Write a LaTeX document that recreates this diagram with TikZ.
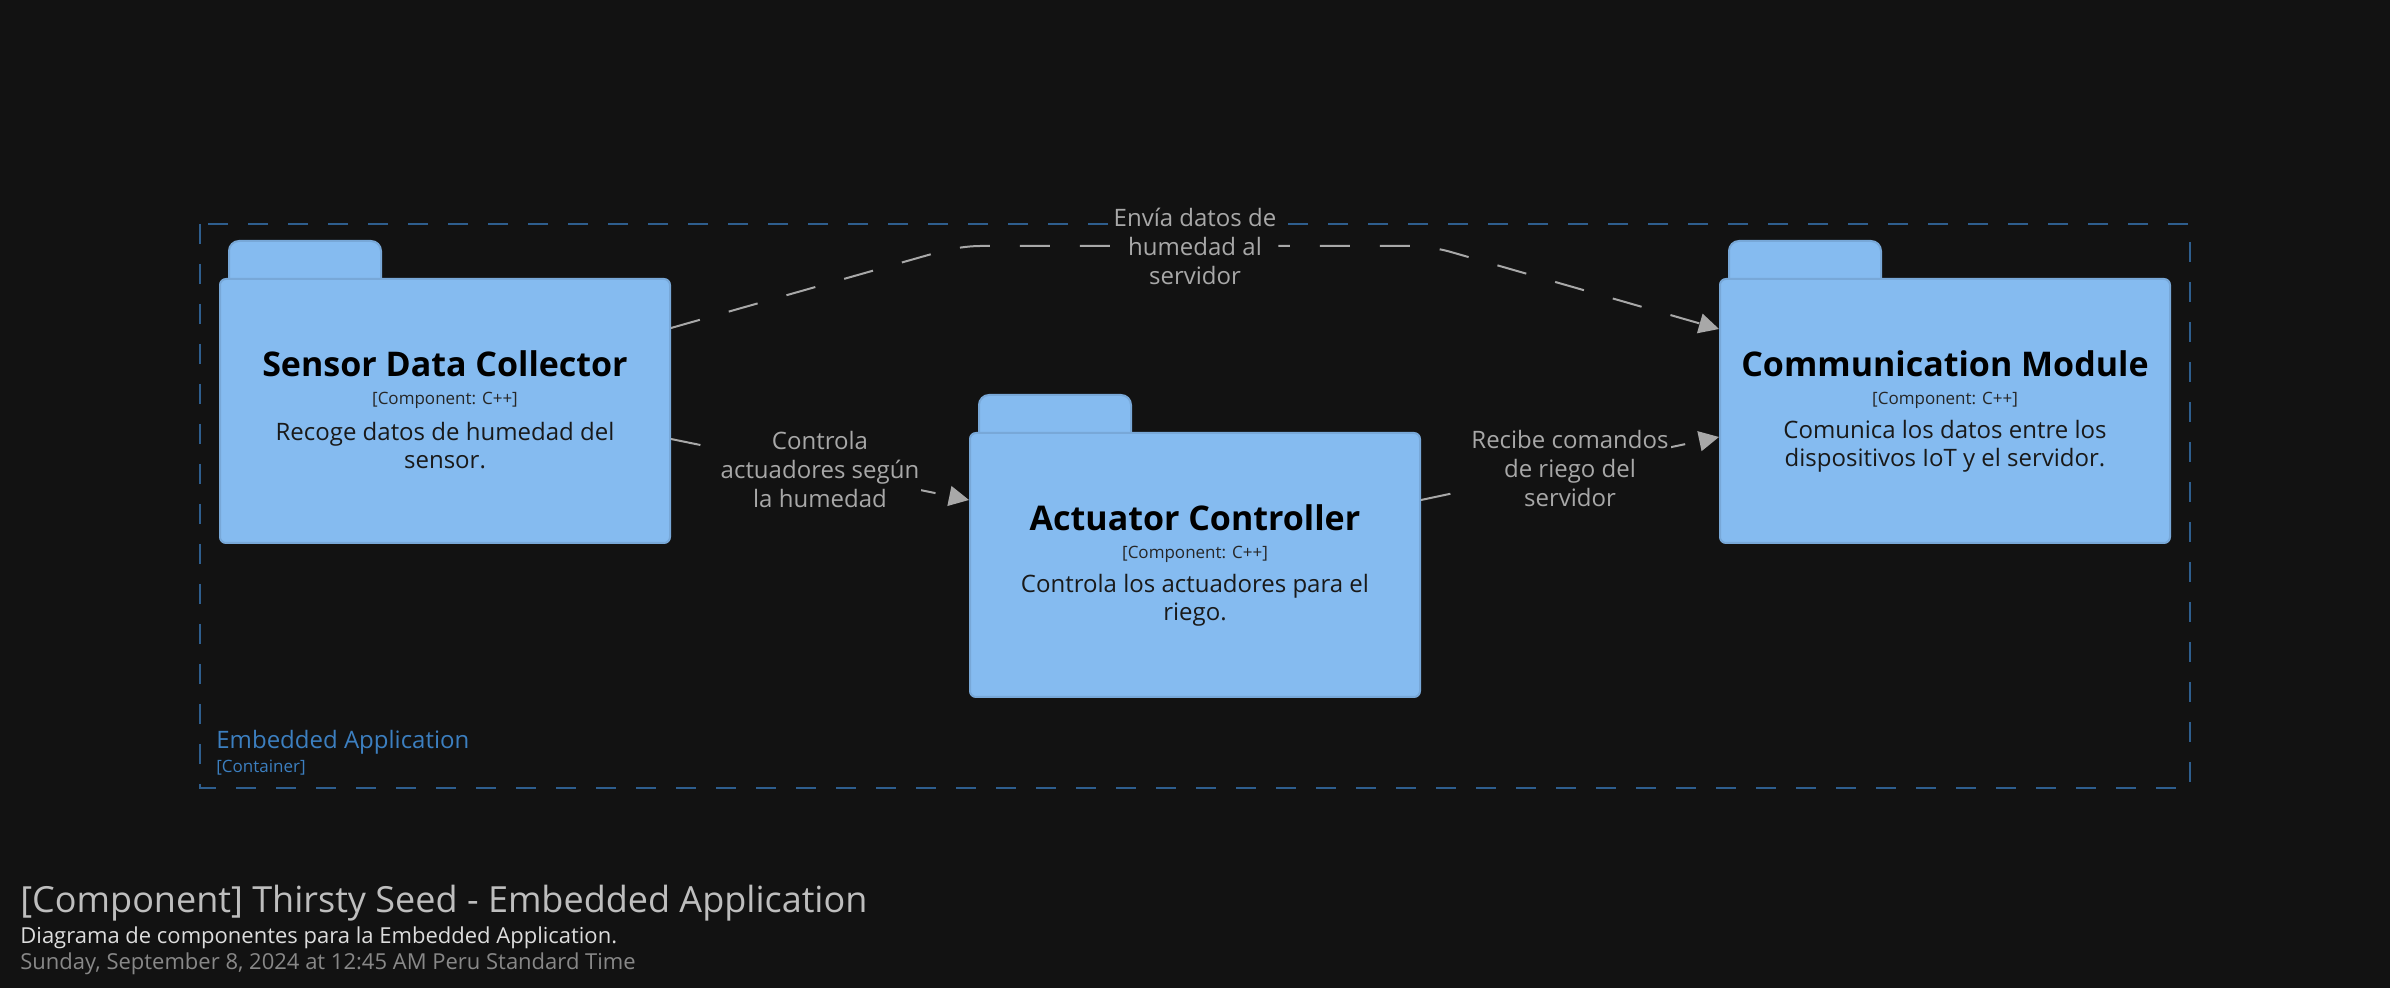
\documentclass[tikz,border=0pt]{standalone}
\usepackage{fontspec}
\setmainfont{Open Sans}
\usetikzlibrary{arrows.meta}

\definecolor{bgdark}{HTML}{121212}
\definecolor{compblue}{HTML}{85BBF0}
\definecolor{compline}{HTML}{78A8D8}
\definecolor{bounddark}{HTML}{2E5E8E}
\definecolor{boundtext}{HTML}{3C7FC0}
\definecolor{relgray}{HTML}{A8A8A8}
\definecolor{titlegray}{HTML}{BEBEBE}
\definecolor{subgray}{HTML}{DDDDDD}
\definecolor{dategray}{HTML}{888888}

\tikzset{
  compbox/.style={draw=compline, fill=compblue, line width=1pt, rounded corners=3pt,
    minimum width=225pt, minimum height=132pt, inner sep=0pt},
  comptab/.style={draw=compline, fill=compblue, line width=1pt, rounded corners=5pt},
  compname/.style={anchor=base, inner sep=0pt, text=black,
    font=\fontsize{17}{20}\selectfont\bfseries},
  comptech/.style={anchor=base, inner sep=0pt, text=black!85,
    font=\fontsize{8.5}{10}\selectfont},
  compdescr/.style={align=center, inner sep=0pt, text=black!90,
    font=\fontsize{12}{14}\selectfont},
  boundary/.style={draw=bounddark, line width=1pt, dash pattern=on 10pt off 10pt},
  boundlabel/.style={anchor=base west, inner sep=0pt, text=boundtext},
  rel/.style={draw=relgray, line width=1pt, dash pattern=on 15pt off 15pt,
    -{Triangle[length=10pt,width=10pt]}},
  rellabel/.style={align=center, fill=bgdark, inner sep=1pt, text=relgray,
    font=\fontsize{12}{14.5}\selectfont},
  legend/.style={anchor=base west, inner sep=0pt},
}

\begin{document}
\begin{tikzpicture}[x=0.5pt,y=-0.5pt]

	\fill[bgdark] (0,0) rectangle (2390,988);
	\useasboundingbox (0,0) rectangle (2390,988);

	% container boundary
	\draw[boundary] (200,224) rectangle (2190,788);
	\node[boundlabel, font=\fontsize{12}{14}\selectfont] (app) at (216,749) {Embedded Application};
	\node[boundlabel, font=\fontsize{8.5}{10}\selectfont] (app-type) at (216,773) {[Container]};

	% tabs
	\path[comptab] (229,241) rectangle ++(152,50);
	\path[comptab] (979,395) rectangle ++(152,50);
	\path[comptab] (1729,241) rectangle ++(152,50);

	% components
	\node[compbox] (sdc) at (445,411)  {};
	\node[compbox] (act) at (1195,565) {};
	\node[compbox] (cm)  at (1945,411) {};

	\node[compname]  (sdc-name)  at (445,377) {Sensor Data Collector};
	\node[comptech]  (sdc-tech)  at (445,405) {[Component: C++]};
	\node[compdescr] (sdc-descr) at (445,446) {Recoge datos de humedad del\\sensor.};

	\node[compname]  (act-name)  at (1195,531) {Actuator Controller};
	\node[comptech]  (act-tech)  at (1195,559) {[Component: C++]};
	\node[compdescr] (act-descr) at (1195,600) {Controla los actuadores para el\\riego.};

	\node[compname]  (cm-name)   at (1945,377) {Communication Module};
	\node[comptech]  (cm-tech)   at (1945,405) {[Component: C++]};
	\node[compdescr] (cm-descr)  at (1945,446) {Comunica los datos entre los\\dispositivos IoT y el servidor.};

	% relations
	\coordinate (bendl) at (960,246);
	\coordinate (bendr) at (1430,246);
	\path[rel, rounded corners=10pt] ([yshift=41.5pt]sdc.east) -- (bendl)
		-- node[rellabel] {Envía datos de\\humedad al\\servidor} (bendr)
		-- ([yshift=41pt]cm.west);
	\path[rel] ([yshift=-14pt]sdc.east) -- node[rellabel] {Controla\\actuadores según\\la humedad} ([yshift=32.5pt]act.west);
	\path[rel] ([yshift=32.5pt]act.east) -- node[rellabel] {Recibe comandos\\de riego del\\servidor} ([yshift=-13pt]cm.west);

	% legend
	\node[legend, text=titlegray, font=\fontsize{18}{22}\selectfont] (title) at (20,913) {[Component] Thirsty Seed - Embedded Application};
	\node[legend, text=subgray, font=\fontsize{11}{13}\selectfont] (subtitle) at (20,943) {Diagrama de componentes para la Embedded Application.};
	\node[legend, text=dategray, font=\fontsize{11}{13}\selectfont] (date) at (20,969) {Sunday, September 8, 2024 at 12:45 AM Peru Standard Time};

\end{tikzpicture}
\end{document}
